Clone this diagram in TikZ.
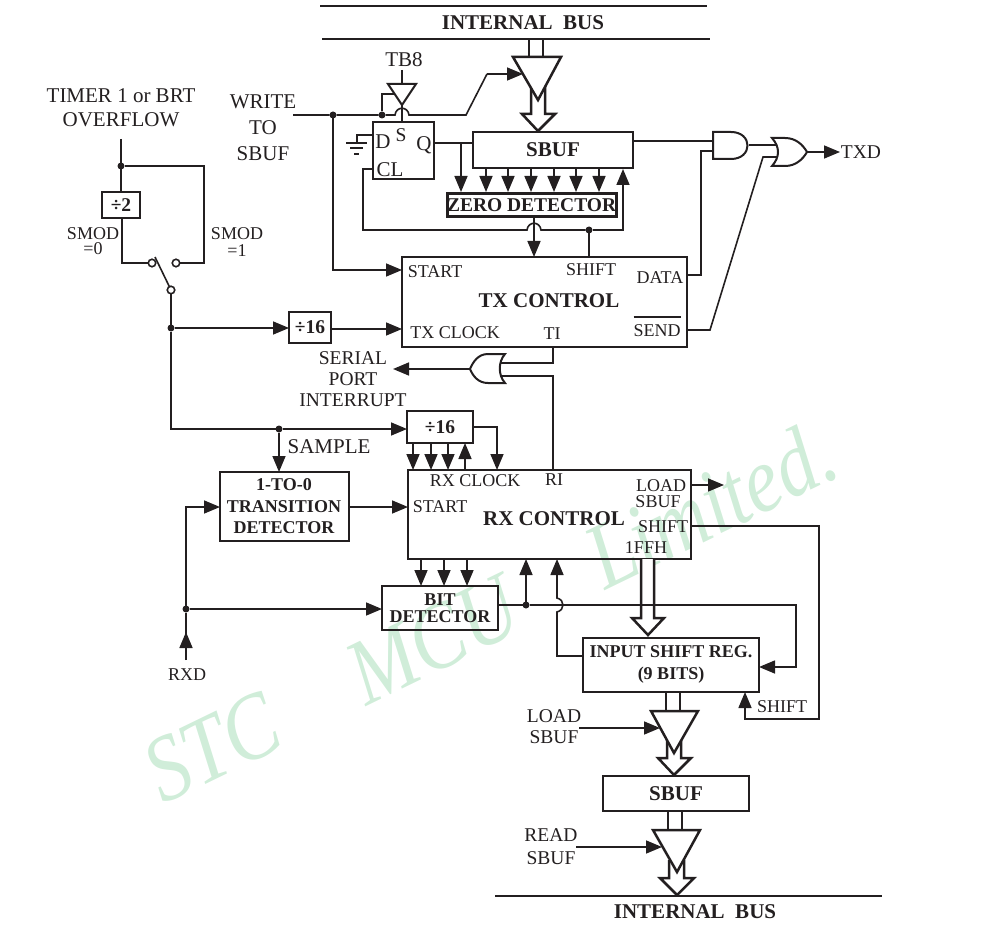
\documentclass[tikz,border=0pt]{standalone}
\usepackage{fontspec}
\setmainfont{Liberation Serif}
\usetikzlibrary{arrows.meta}
\definecolor{ink}{HTML}{231F20}
\definecolor{mark}{HTML}{D0EDD9}
\newcommand{\fa}{\fontsize{18}{18}\selectfont}
\newcommand{\fb}{\fontsize{21}{21}\selectfont}
\newcommand{\fc}{\fontsize{19.5}{19.5}\selectfont}
\tikzset{
  wire/.style={draw=ink,line width=1.6pt,line join=miter},
  arr/.style={wire,-{Triangle[length=16pt,width=13pt]}},
  block/.style={draw=ink,line width=2.6pt,inner sep=0pt,outer sep=0pt,text=ink,font=\fb\bfseries,align=center,anchor=north west},
  lab/.style={inner sep=0pt,outer sep=0pt,text=ink,font=\fa,align=center},
  big/.style={lab,font=\fb},
  mid/.style={lab,font=\fc},
  blab/.style={lab,font=\fb\bfseries},
  slab/.style={lab,font=\fa\bfseries},
  jdot/.style={circle,fill=ink,draw=none,minimum size=7pt,inner sep=0pt,outer sep=0pt},
  opn/.style={circle,fill=white,draw=ink,line width=1.6pt,minimum size=7.5pt,inner sep=0pt,outer sep=0pt},
  busline/.style={draw=ink,line width=2.5pt},
  tri/.style={draw=ink,line width=2.5pt,fill=white,line join=miter},
  gate/.style={draw=ink,line width=2pt,fill=white,line join=miter},
}
\begin{document}
\begin{tikzpicture}[x=1pt,y=-1pt]
\useasboundingbox (0,0) rectangle (982,933);
% watermark
\node[inner sep=0pt,text=mark,rotate=25.9,anchor=base west,font=\fontsize{80}{80}\selectfont\itshape] (wm) at (163,805) {\scalebox{1}[1.17]{STC\hspace{0.85em} MCU\hspace{0.85em} Limited.}};
% ---- buses
\coordinate (b1a) at (320,6); \coordinate (b1b) at (707,6);
\coordinate (b2a) at (322,39); \coordinate (b2b) at (710,39);
\draw[busline] (b1a) -- (b1b); \draw[busline] (b2a) -- (b2b);
\node[blab] (tbus) at (523,23) {INTERNAL\hspace{0.25em} BUS};
\coordinate (b3a) at (495,896); \coordinate (b3b) at (882,896);
\draw[busline] (b3a) -- (b3b);
\node[blab] (bbus) at (695,912) {INTERNAL\hspace{0.25em} BUS};
% ---- blocks
\node[block,minimum width=160pt,minimum height=36pt] (sbufT) at (473,132) {SBUF};
\node[block,minimum width=61pt,minimum height=57pt] (ff) at (373,122) {};
\node[block,minimum width=168pt,minimum height=23pt,font=\fc\bfseries,line width=3pt] (zero) at (447,194) {ZERO DETECTOR};
\node[block,minimum width=285pt,minimum height=90pt] (tx) at (402,257) {};
\node[block,minimum width=283pt,minimum height=89pt] (rx) at (408,470) {};
\node[block,minimum width=38pt,minimum height=26pt,font=\fc\bfseries] (d2) at (102,192) {÷2};
\node[block,minimum width=42pt,minimum height=31pt,font=\fc\bfseries] (d16a) at (289,312) {÷16};
\node[block,minimum width=66pt,minimum height=32pt,font=\fc\bfseries] (d16b) at (407,411) {÷16};
\node[block,minimum width=129pt,minimum height=69pt] (tran) at (220,472) {};
\node[block,minimum width=116pt,minimum height=44pt] (bit) at (382,586) {};
\node[block,minimum width=176pt,minimum height=54pt] (isr) at (583,638) {};
\node[block,minimum width=146pt,minimum height=35pt] (sbufB) at (603,776) {SBUF};
% ---- block texts
\node[big] (t1) at (121,96) {TIMER 1 or BRT};
\node[big] (t2) at (121,120) {OVERFLOW};
\node[big] (w1) at (263,102) {WRITE};
\node[big] (w2) at (263,128) {TO};
\node[big] (w3) at (263,154) {SBUF};
\node[big] (tb8) at (404,60) {TB8};
\node[big] (ffd) at (383,142) {D};
\node[lab,font=\fc] (ffs) at (401,135) {S};
\node[big] (ffq) at (424,145) {Q};
\node[big] (ffc) at (390,170) {CL};
\node[lab] (sm0a) at (93,234) {SMOD};
\node[lab] (sm0b) at (93,249) {=0};
\node[lab] (sm1a) at (237,234) {SMOD};
\node[lab] (sm1b) at (237,251) {=1};
\node[lab] (txstart) at (435,272) {START};
\node[lab] (txshift) at (591,270) {SHIFT};
\node[lab] (txdata) at (660,278) {DATA};
\node[blab] (txc) at (549,301) {TX CONTROL};
\node[lab] (txclk) at (455,333) {TX CLOCK};
\node[lab] (txti) at (552,334) {TI};
\node[lab] (txsend) at (657,331) {SEND};
\draw[ink,line width=1.6pt] (txsend.north west |- 0,317) -- (txsend.north east |- 0,317);
\node[lab,font=\fc] (txdl) at (861,152) {TXD};
\node[mid] (s1) at (353,358) {SERIAL};
\node[mid] (s2) at (353,379) {PORT};
\node[mid] (s3) at (353,400) {INTERRUPT};
\node[big] (samp) at (329,447) {SAMPLE};
\node[lab] (rxclk) at (475,481) {RX CLOCK};
\node[lab] (rxri) at (554,480) {RI};
\node[lab] (rxstart) at (440,507) {START};
\node[blab] (rxc) at (554,519) {RX CONTROL};
\node[lab] (rxl1) at (661,486) {LOAD};
\node[lab] (rxl2) at (658,502) {SBUF};
\node[lab] (rxsh) at (663,527) {SHIFT};
\node[lab] (rxf) at (646,548) {1FFH};
\node[slab] (tr1) at (284,485) {1-TO-0};
\node[slab] (tr2) at (284,507) {TRANSITION};
\node[slab] (tr3) at (284,528) {DETECTOR};
\node[slab] (bd1) at (440,600) {BIT};
\node[slab] (bd2) at (440,617) {DETECTOR};
\node[slab] (is1) at (671,652) {INPUT SHIFT REG.};
\node[slab] (is2) at (671,675) {(9 BITS)};
\node[lab] (rxd) at (187,675) {RXD};
\node[lab] (sh2) at (782,707) {SHIFT};
\node[mid] (ld1) at (554,716) {LOAD};
\node[mid] (ld2) at (554,737) {SBUF};
\node[mid] (rd1) at (551,835) {READ};
\node[mid] (rd2) at (551,858) {SBUF};
% ---- tri-state buffers and hollow arrows
\newcommand{\hollow}[5]{% xl xr y0 yhead xtip
  \draw[tri] (#1,#3) -- (#1,#4) -- (#1-9,#4) -- (#5,#4+17) -- (#2+10,#4) -- (#2,#4) -- (#2,#3);}
\hollow{531}{545}{85}{114}{538}
\hollow{667}{681}{740}{758}{674}
\hollow{669}{684}{860}{878}{677}
\hollow{641}{654}{559}{618}{648}
\draw[tri] (529,39) -- (529,57); \draw[tri] (543,39) -- (543,57);
\draw[tri] (sbufB.south -| 668,0) -- (668,830); \draw[tri] (sbufB.south -| 682,0) -- (682,830);
\draw[tri] (isr.south -| 666,0) -- (666,711); \draw[tri] (isr.south -| 680,0) -- (680,711);
\coordinate (tg1a) at (513,57); \coordinate (tg1b) at (561,57); \coordinate (tg1c) at (538,100);
\coordinate (tg2a) at (651,711); \coordinate (tg2b) at (698,711); \coordinate (tg2c) at (674,753);
\coordinate (tg3a) at (653,830); \coordinate (tg3b) at (700,830); \coordinate (tg3c) at (677,872);
\draw[tri] (tg1a) -- (tg1b) -- (tg1c) -- cycle;
\draw[tri] (tg2a) -- (tg2b) -- (tg2c) -- cycle;
\draw[tri] (tg3a) -- (tg3b) -- (tg3c) -- cycle;
% ---- TB8 buffer
\coordinate (tbb) at (402,84);
\draw[wire] (402,70) -- (tbb);
\draw[wire] (402,105) -- (ff.north -| 402,0);
\node[jdot] (j1) at (333,115) {};
\node[jdot] (j2) at (382,115) {};
\draw[wire] (293,115) -- (j1) -- (j2) -- (395,115) .. controls (396,106) and (408,106) .. (409,115) -- (466,115) -- (487,74);
\draw[arr] (487,74) -- (523,74);
\draw[wire] (j2) -- (382,94) -- (395,94);
\draw[gate] (388,84) -- (416,84) -- (402,105) -- cycle;
% ---- ground
\draw[wire] (ff.west |- 0,135) -- (357,135) -- (357,143);
\coordinate (g1a) at (346,143); \coordinate (g1b) at (367,143);
\coordinate (g2a) at (350,148); \coordinate (g2b) at (363,148);
\coordinate (g3a) at (354,154); \coordinate (g3b) at (359,154);
\draw[wire] (g1a) -- (g1b) (g2a) -- (g2b) (g3a) -- (g3b);
% ---- FF and SBUF
\draw[wire] (ff.east |- 0,143) -- (sbufT.west |- 0,143);
\draw[arr] (461,143) -- (461,192);
\foreach \i/\x in {1/486,2/508,3/531,4/554,5/576,6/599}{\draw[arr] (sbufT.south -| \x,0) -- (\x,192);}
\node[jdot] (j3) at (589,230) {};
\draw[wire] (ff.west |- 0,169) -- (363,169) -- (363,230) -- (527,230) .. controls (528,221) and (540,221) .. (541,230) -- (j3);
\draw[arr] (j3) -- (623,230) -- (623,169);
\draw[arr] (zero.south -| 534,0) -- (tx.north -| 534,0);
\draw[wire] (j3) -- (tx.north -| 589,0);
\draw[arr] (j1) -- (333,270) -- (tx.west |- 0,270);
% ---- AND / OR
\coordinate (dataL) at (701,151);
\draw[wire] (sbufT.east |- 0,141) -- (713,141);
\draw[wire] (tx.east |- 0,275) -- (701,275) -- (dataL) -- (713,151);
\draw[wire] (749,145) -- (777,145);
\draw[wire] (tx.east |- 0,330) -- (710,330) -- (763,157) -- (777,157);
\draw[gate] (713,132) -- (731,132) .. controls (753,132) and (753,159) .. (731,159) -- (713,159) -- cycle;
\draw[gate] (772,138) -- (785,138) .. controls (796,138) and (803,145) .. (807,152) .. controls (803,159) and (796,166) .. (785,166) -- (772,166) .. controls (780,157) and (780,147) .. (772,138) -- cycle;
\draw[arr] (807,152) -- (840,152);
% ---- left switch
\draw[wire] (121,139) -- (d2.north -| 121,0);
\node[jdot] (j4) at (121,166) {};
\node[opn] (c1) at (152,263) {};
\node[opn] (c2) at (176,263) {};
\node[opn] (c3) at (171,290) {};
\draw[wire] (j4) -- (204,166) -- (204,263) -- (c2);
\draw[wire] (d2.south -| 122,0) -- (122,263) -- (c1);
\draw[wire] (155,257) -- (c3);
\node[jdot] (j5) at (171,328) {};
\node[jdot] (j6) at (279,429) {};
\draw[wire] (c3) -- (j5) -- (171,429) -- (j6);
\draw[arr] (j5) -- (d16a.west |- j5);
\draw[arr] (d16a.east |- 0,329) -- (tx.west |- 0,329);
\draw[arr] (j6) -- (d16b.west |- j6);
\draw[arr] (j6) -- (tran.north -| j6);
% ---- interrupt OR
\draw[arr] (470,369) -- (393,369);
\draw[wire] (tx.south -| 553,0) -- (553,363) -- (500,363);
\draw[wire] (rx.north -| 553,0) -- (553,376) -- (500,376);
\draw[gate] (505,354) -- (488,354) .. controls (478,354) and (473,362) .. (470,369) .. controls (473,376) and (478,383) .. (488,383) -- (505,383) .. controls (498,375) and (498,362) .. (505,354) -- cycle;
% ---- RX clock
\foreach \x in {413,431,448}{\draw[arr] (d16b.south -| \x,0) -- (rx.north -| \x,0);}
\draw[arr] (rx.north -| 465,0) -- (d16b.south -| 465,0);
\draw[arr] (d16b.east |- 0,427) -- (497,427) -- (rx.north -| 497,0);
\draw[arr] (tran.east |- 0,507) -- (rx.west |- 0,507);
% ---- RXD
\coordinate (rxdpt) at (186,660);
\node[jdot] (j7) at (186,609) {};
\draw[arr] (rxdpt) -- (186,632);
\draw[wire] (186,634) -- (j7);
\draw[arr] (j7) -- (186,507) -- (tran.west |- 0,507);
\draw[arr] (j7) -- (bit.west |- j7);
\foreach \x in {421,444,467}{\draw[arr] (rx.south -| \x,0) -- (bit.north -| \x,0);}
% ---- bit detector output
\node[jdot] (j8) at (526,605) {};
\draw[wire] (bit.east |- j8) -- (j8);
\draw[arr] (j8) -- (rx.south -| j8);
\draw[arr] (j8) -- (796,605) -- (796,667) -- (isr.east |- 0,667);
\draw[arr] (isr.west |- 0,656) -- (557,656) -- (557,612) .. controls (565,610) and (565,600) .. (557,598) -- (rx.south -| 557,0);
% ---- RX outputs
\draw[arr] (rx.east |- 0,485) -- (724,485);
\draw[arr] (rx.east |- 0,526) -- (819,526) -- (819,719) -- (745,719) -- (isr.south -| 745,0);
\draw[arr] (579,728) -- (660,728);
\draw[arr] (576,847) -- (662,847);
\end{tikzpicture}
\end{document}
